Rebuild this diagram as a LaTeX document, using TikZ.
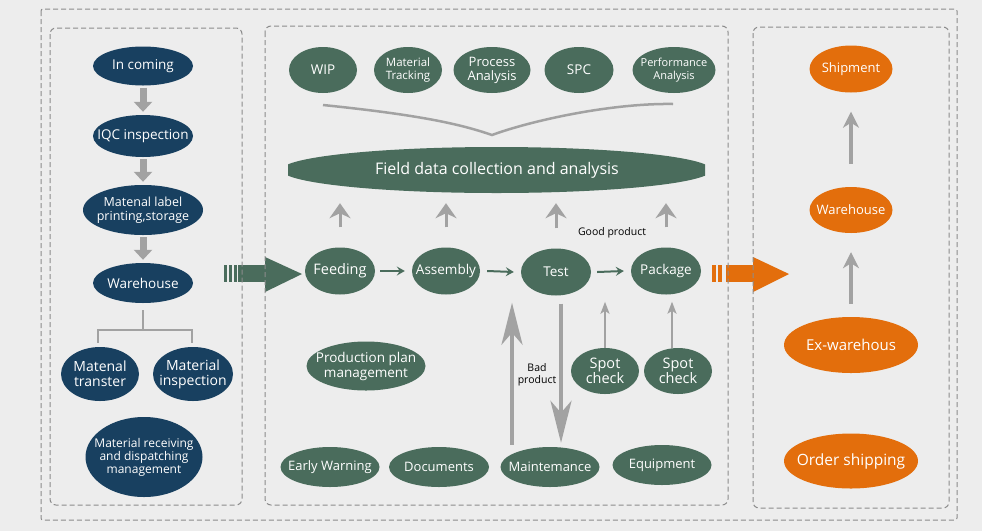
\documentclass[tikz,border=0pt]{standalone}
\usepackage{fontspec}
\setmainfont{Open Sans}
\usetikzlibrary{shapes.geometric,arrows.meta}
\definecolor{bgc}{RGB}{237,237,237}
\definecolor{dashc}{RGB}{140,140,140}
\definecolor{cblue}{RGB}{24,64,96}
\definecolor{cgreen}{RGB}{74,108,92}
\definecolor{corange}{RGB}{227,110,12}
\definecolor{agray}{RGB}{162,162,162}
\newcommand\fsz[2]{\fontsize{#1}{#2}\selectfont}
\tikzset{
  ell/.style={ellipse, inner sep=-40pt, text=white, align=center},
  sz/.style 2 args={minimum width=#1pt, minimum height=#2pt},
  bnode/.style={ell, fill=cblue},
  gnode/.style={ell, fill=cgreen},
  onode/.style={ell, fill=corange},
  panel/.style={draw=dashc, line width=1pt, dash pattern=on 5pt off 3pt, rounded corners=6pt},
  lcarr/.style={draw=agray, line width=7pt, -{Triangle[length=10pt,width=18pt]}},
  uparr/.style={draw=agray, line width=3pt, -{Stealth[length=15pt,width=21pt,inset=5pt]}},
  rarr/.style={draw=agray, line width=3.5pt, -{Stealth[length=16pt,width=16pt,inset=5pt]}},
  bigarr/.style={draw=agray, line width=4pt, -{Stealth[length=42pt,width=21pt,inset=12pt]}},
  thinarr/.style={draw=agray, line width=2pt, -{Stealth[length=12pt,width=9pt,inset=3pt]}},
  garr/.style={draw=cgreen, line width=2pt, -{Stealth[length=8pt,width=9pt,inset=3pt]}},
  treeln/.style={draw=agray, line width=2.5pt},
  lbl/.style={text=black, align=center, inner sep=0pt},
}
\begin{document}
\begin{tikzpicture}[x=1pt,y=-1pt]
\fill[bgc] (0,0) rectangle (982,531);
\useasboundingbox (0,0) rectangle (982,531);

% big connecting arrows (under the dashed borders)
\fill[cgreen] (224,265) rectangle (227,282);
\fill[cgreen] (229,265) rectangle (232,282);
\fill[cgreen] (234,265) rectangle (237,282);
\fill[cgreen] (238,265) rectangle (266,282);
\fill[cgreen] (265,257) -- (302,274) -- (265,292) -- cycle;
\fill[corange] (712,265) rectangle (716,282);
\fill[corange] (718,265) rectangle (722,282);
\fill[corange] (726,265) rectangle (754,282);
\fill[corange] (753,257) -- (789,274) -- (753,292) -- cycle;

% panels
\draw[panel, rounded corners=2pt] (41,9) rectangle (957,520);
\draw[panel] (50,28) rectangle (242,505);
\draw[panel] (265,26) rectangle (728,505);
\draw[panel] (753,27) rectangle (949,508);

% left column
\node[bnode, sz={100}{39}, font=\fsz{13.5}{15}] (inc) at (143,66) {In coming};
\node[bnode, sz={100}{42}, font=\fsz{13.5}{15}] (iqc) at (143,136) {IQC inspection};
\node[bnode, sz={120}{50}, font=\fsz{12.5}{13.5}] (mlp) at (143,210) {Matenal label\\printing,storage};
\node[bnode, sz={100}{40}, font=\fsz{13.5}{15}] (lwh) at (143,283) {Warehouse};
\node[bnode, sz={78}{54}, font=\fsz{14}{15}] (mt) at (100,374) {Matenal\\transter};
\node[bnode, sz={80}{54}, font=\fsz{14}{15}] (mi) at (193,374) {Material\\inspection};
\node[bnode, sz={117}{80}, font=\fsz{12}{13}] (mrd) at (144,457) {Material receiving\\and dispatching\\management};

\draw[lcarr] ([yshift=-2pt]inc.south) -- ([yshift=3pt]iqc.north);
\draw[lcarr] ([yshift=-2pt]iqc.south) -- ([yshift=3pt]mlp.north);
\draw[lcarr] ([yshift=-2pt]mlp.south) -- ([yshift=3pt]lwh.north);
\coordinate (tj) at (143,330);
\draw[treeln] ([yshift=-7pt]lwh.south) -- (tj);
\draw[treeln] ([xshift=-2pt,yshift=4pt]mt.north) |- (tj) -| ([xshift=-1pt,yshift=4pt]mi.north);

% middle top
\node[gnode, sz={68}{46}, font=\fsz{13.5}{15}] (wip) at (323,70) {WIP};
\node[gnode, sz={68}{46}, font=\fsz{11.5}{13.5}] (mtr) at (408,70) {Material\\Tracking};
\node[gnode, sz={77}{46}, font=\fsz{13}{14}] (pa) at (492,70) {Process\\Analysis};
\node[gnode, sz={69}{46}, font=\fsz{13.5}{15}] (spc) at (579,70) {SPC};
\node[gnode, sz={83}{46}, font=\fsz{11}{13}] (pfa) at (674,70) {Performance\\Analysis};
\draw[draw=agray, line width=2.5pt] (323,105) .. controls (420,115) and (460,124) .. (492,135)
  .. controls (530,121) and (610,103) .. (673,104);
\begin{scope}
  \clip (288,100) rectangle (705,240);
  \fill[cgreen] (496.5,170) ellipse [x radius=215, y radius=23];
\end{scope}
\node[ell, sz={417}{46}, font=\fsz{16}{18}] (fd) at (497,170) {Field data collection and analysis};

% process row
\node[gnode, sz={70}{47}, font=\fsz{14.5}{16}] (feed) at (340,271) {Feeding};
\node[gnode, sz={68}{47}, font=\fsz{13.5}{16}] (asm) at (446,271) {Assembly};
\node[gnode, sz={70}{47}, font=\fsz{13.5}{16}] (test) at (556,272) {Test};
\node[gnode, sz={70}{47}, font=\fsz{13.5}{16}] (pkg) at (666,271) {Package};
\draw[garr] ([xshift=5pt]feed.east) -- ([xshift=-7pt]asm.west);
\draw[garr] ([xshift=7pt]asm.east) -- ([xshift=-7pt]test.west);
\draw[garr] ([xshift=6pt]test.east) -- ([xshift=-7pt]pkg.west);
\foreach \n in {feed,asm,test,pkg}
  \draw[uparr] ([yshift=20pt]\n.north) -- ([yshift=-10pt]\n.north |- fd.south);
\node[lbl, font=\fsz{10.5}{12}] (gp) at (612,233) {Good product};

% lower middle
\node[gnode, sz={119}{49}, font=\fsz{13.5}{15}] (ppm) at (366,366) {Production plan\\management};
\node[gnode, sz={68}{46}, font=\fsz{14.5}{15}] (sp1) at (605,371) {Spot\\check};
\node[gnode, sz={68}{46}, font=\fsz{14.5}{15}] (sp2) at (678,371) {Spot\\check};
\node[gnode, sz={99}{40}, font=\fsz{13}{15}] (ew) at (330,467) {Early Warning};
\node[gnode, sz={100}{40}, font=\fsz{13}{15}] (doc) at (439,467) {Documents};
\node[gnode, sz={99}{40}, font=\fsz{13}{15}] (mnt) at (550,467) {Maintemance};
\node[gnode, sz={99}{40}, font=\fsz{13}{15}] (eq) at (662,465) {Equipment};

\draw[bigarr] ([xshift=-38pt,yshift=2pt]mnt.north) -- ([xshift=-44pt,yshift=-7pt]test.south);
\draw[bigarr] ([xshift=5pt,yshift=-8pt]test.south) -- ([xshift=11pt,yshift=4pt]mnt.north);
\node[lbl, font=\fsz{10.5}{12.5}] (bp) at (537,375) {Bad\\product};
\draw[thinarr] (sp1.north) -- ++(0,-46);
\draw[thinarr] ([xshift=-6pt]sp2.north) -- ([xshift=6pt,yshift=-7pt]pkg.south);

% right column
\node[onode, sz={83}{47}, font=\fsz{13}{15}] (shp) at (851,69) {Shipment};
\node[onode, sz={83}{46}, font=\fsz{13}{15}] (rwh) at (851,210) {Warehouse};
\node[onode, sz={134}{56}, font=\fsz{15}{17}] (exw) at (851,345) {Ex-warehous};
\node[onode, sz={134}{55}, font=\fsz{15.5}{18}] (ord) at (851,461) {Order shipping};
\draw[rarr] ([yshift=23pt]rwh.north) -- ([yshift=-19pt]shp.south);
\draw[rarr] ([yshift=13pt]exw.north) -- ([yshift=-19pt]rwh.south);
\end{tikzpicture}
\end{document}
